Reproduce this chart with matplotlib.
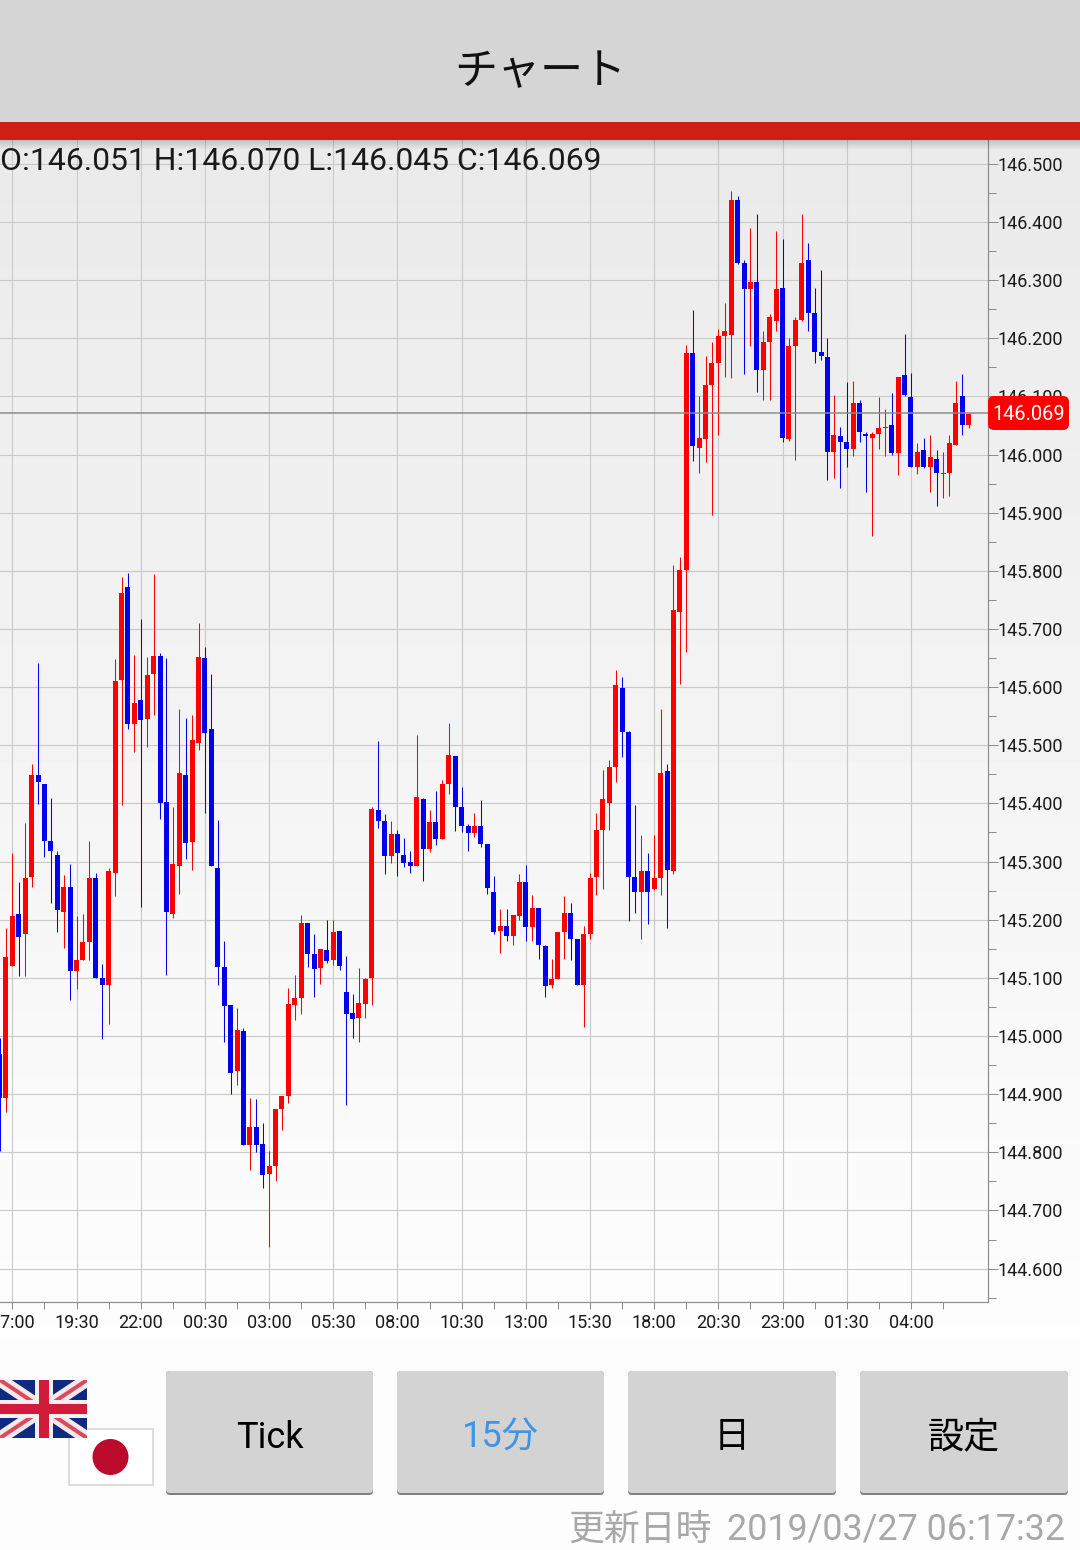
import numpy as np
import matplotlib
matplotlib.use("Agg")
import matplotlib.pyplot as plt
from matplotlib.patches import Rectangle, FancyBboxPatch, Circle
from matplotlib.ticker import FixedLocator, FixedFormatter

plt.rcParams['font.family'] = ['Roboto', 'Noto Sans CJK JP', 'DejaVu Sans']

# ---- data: 15-minute candles, first candle two bars left of the 17:00 gridline
opens = [144.969,144.894,145.120,145.209,145.175,145.273,145.448,145.434,145.336,145.312,
 145.214,145.257,145.112,145.131,145.162,145.271,145.099,145.087,145.281,145.613,
 145.773,145.537,145.577,145.546,145.623,145.654,145.403,145.210,145.293,145.449,
 145.334,145.504,145.650,145.528,145.289,145.119,145.053,144.940,145.009,144.812,
 144.844,144.815,144.762,144.776,144.875,144.897,145.053,145.066,145.195,145.141,
 145.117,145.148,145.130,145.180,145.076,145.040,145.031,145.055,145.099,145.388,
 145.369,145.309,145.348,145.312,145.299,145.292,145.408,145.321,145.368,145.338,
 145.433,145.481,145.393,145.361,145.349,145.361,145.331,145.247,145.180,145.190,
 145.172,145.206,145.264,145.187,145.220,145.154,145.087,145.098,145.178,145.211,
 145.166,145.087,145.175,145.273,145.355,145.400,145.462,145.599,145.522,145.273,
 145.247,145.283,145.252,145.271,145.455,145.283,145.730,145.801,146.174,146.012,
 146.026,146.119,146.158,146.203,146.205,146.438,146.330,146.285,146.296,146.146,
 146.193,146.230,146.287,146.026,146.186,146.232,146.335,146.243,146.176,146.167,
 146.005,146.031,146.021,146.009,146.089,146.036,146.029,146.036,146.045,146.050,
 146.003,146.137,146.099,145.979,146.007,145.979,145.993,145.967,145.969,146.017,
 146.101,146.051]
closes = [144.894,145.135,145.207,145.171,145.272,145.449,145.436,145.336,145.319,145.216,
 145.257,145.111,145.131,145.162,145.271,145.100,145.087,145.284,145.611,145.762,
 145.537,145.573,145.544,145.620,145.654,145.401,145.214,145.295,145.453,145.332,
 145.509,145.652,145.521,145.293,145.119,145.052,144.936,145.011,144.812,144.844,
 144.813,144.761,144.776,144.875,144.897,145.055,145.066,145.195,145.141,145.116,
 145.149,145.129,145.178,145.120,145.038,145.030,145.057,145.098,145.390,145.369,
 145.309,145.348,145.314,145.297,145.293,145.411,145.321,145.368,145.338,145.434,
 145.483,145.393,145.361,145.349,145.361,145.331,145.254,145.178,145.189,145.172,
 145.208,145.264,145.187,145.220,145.156,145.086,145.098,145.178,145.211,145.166,
 145.087,145.175,145.271,145.354,145.407,145.462,145.603,145.522,145.273,145.247,
 145.283,145.247,145.271,145.453,145.285,145.732,145.801,146.174,146.014,146.028,
 146.119,146.157,146.203,146.212,146.437,146.330,146.285,146.296,146.146,146.193,
 146.236,146.285,146.028,146.186,146.232,146.330,146.243,146.177,146.169,146.005,
 146.033,146.021,146.009,146.089,146.038,146.031,146.036,146.045,146.048,146.003,
 146.134,146.103,145.979,146.005,145.979,145.995,145.969,145.969,146.019,146.089,
 146.051,146.069]
highs = [144.996,145.186,145.315,145.265,145.367,145.468,145.642,145.434,145.410,145.319,
 145.277,145.296,145.207,145.210,145.336,145.281,145.123,145.289,145.649,145.790,
 145.797,145.656,145.717,145.652,145.795,145.659,145.650,145.393,145.562,145.547,
 145.552,145.711,145.669,145.623,145.372,145.164,145.053,145.048,145.014,144.894,
 144.892,144.851,144.803,144.875,144.897,145.083,145.105,145.208,145.195,145.175,
 145.149,145.199,145.200,145.180,145.137,145.072,145.117,145.100,145.394,145.508,
 145.381,145.369,145.354,145.341,145.318,145.517,145.409,145.388,145.422,145.441,
 145.539,145.481,145.428,145.364,145.383,145.405,145.331,145.276,145.218,145.218,
 145.208,145.278,145.294,145.242,145.220,145.156,145.132,145.178,145.240,145.228,
 145.166,145.190,145.280,145.383,145.457,145.474,145.629,145.618,145.524,145.398,
 145.345,145.314,145.345,145.562,145.467,145.810,145.824,146.188,146.249,146.100,
 146.169,146.193,146.216,146.261,146.453,146.445,146.335,146.390,146.414,146.213,
 146.241,146.385,146.370,146.201,146.236,146.413,146.363,146.287,146.318,146.201,
 146.103,146.048,146.125,146.127,146.093,146.038,146.039,146.099,146.079,146.106,
 146.134,146.207,146.141,146.019,146.029,146.033,146.007,146.005,146.034,146.127,
 146.139,146.070]
lows = [144.803,144.870,145.120,145.103,145.104,145.256,145.399,145.307,145.228,145.178,
 145.152,145.062,145.080,145.131,145.131,145.100,144.994,145.020,145.241,145.398,
 145.528,145.489,145.221,145.497,145.552,145.374,145.105,145.203,145.245,145.305,
 145.286,145.492,145.384,145.293,145.087,144.990,144.901,144.916,144.812,144.769,
 144.800,144.738,144.638,144.751,144.839,144.884,145.028,145.038,145.119,145.067,
 145.089,145.125,145.122,145.113,144.882,144.997,144.990,145.031,145.053,145.357,
 145.278,145.297,145.276,145.290,145.280,145.292,145.267,145.316,145.328,145.338,
 145.417,145.352,145.350,145.319,145.343,145.325,145.244,145.175,145.142,145.163,
 145.156,145.199,145.163,145.163,145.132,145.067,145.082,145.098,145.132,145.130,
 145.087,145.015,145.166,145.242,145.252,145.355,145.436,145.479,145.197,145.211,
 145.166,145.192,145.251,145.242,145.185,145.278,145.606,145.660,145.988,145.968,
 145.987,145.896,146.033,146.133,146.131,146.327,146.138,146.186,146.108,146.093,
 146.093,146.212,146.021,146.024,145.990,146.229,146.212,146.157,146.162,145.957,
 145.959,145.943,145.979,145.998,146.021,145.935,145.859,146.009,145.998,146.000,
 145.964,146.101,145.979,145.966,145.976,145.935,145.911,145.926,145.928,146.017,
 146.034,146.045]
time_labels = ['17:00','19:30','22:00','00:30','03:00','05:30','08:00','10:30',
               '13:00','15:30','18:00','20:30','23:00','01:30','04:00']
price_labels = ['146.500','146.400','146.300','146.200','146.100','146.000','145.900',
                '145.800','145.700','145.600','145.500','145.400','145.300','145.200',
                '145.100','145.000','144.900','144.800','144.700','144.600']
price_ticks = [float(s) for s in price_labels]
minor_price_ticks = [p - 0.05 for p in price_ticks]
current_price_line = 146.071
current_price_text = '146.069'
ohlc_text = 'O:146.051 H:146.070 L:146.045 C:146.069'
title_text = 'チャート'
button_labels = ['Tick', '15分', '日', '設定']
updated_label = '更新日時'
updated_stamp = '2019/03/27 06:17:32'

# ---- figure and pixel helpers
W, H = 1080, 1550
DPI = 100
PX = 72 / DPI
fig = plt.figure(figsize=(W / DPI, H / DPI), dpi=DPI, facecolor='#fdfdfd')

def px_axes(z):
    a = fig.add_axes([0, 0, 1, 1], zorder=z)
    a.set_xlim(0, W); a.set_ylim(H, 0); a.axis('off'); a.patch.set_alpha(0)
    return a

bg = px_axes(0)
grad = np.linspace(0.918, 0.993, 256).reshape(-1, 1)
bg.imshow(grad, extent=(0, W, 1340, 140), cmap='gray', vmin=0, vmax=1, aspect='auto', zorder=0)
bg.set_xlim(0, W); bg.set_ylim(H, 0)

# ---- chart
L, R, T, B = 0, 988, 140, 1301.5
ax = fig.add_axes([L / W, 1 - B / H, (R - L) / W, (B - T) / H], zorder=1)
ax.patch.set_alpha(0)
STEP = 6.418
X0 = 12.4
ax.set_xlim((L - X0) / STEP, (R - X0) / STEP)
PPU = 581.5
Y0 = 454.5
ax.set_ylim(146 + (Y0 - B) / PPU, 146 + (Y0 - T) / PPU)

o, h, l, c = map(np.array, (opens, highs, lows, closes))
x = np.arange(len(o)) - 2
up = c >= o
colors = np.where(up, '#ff0000', '#0000ee')
ax.vlines(x, l, h, colors=colors, linewidth=1.05 * PX, zorder=3)
ax.bar(x, np.abs(c - o), bottom=np.minimum(o, c), width=5 / STEP, color=colors, linewidth=0, zorder=4)

major_x = list(range(0, 150, 10))
minor_x = list(range(5, 150, 10))
ax.xaxis.set_major_locator(FixedLocator(major_x))
ax.xaxis.set_major_formatter(FixedFormatter(time_labels))
ax.xaxis.set_minor_locator(FixedLocator(minor_x))
ax.yaxis.set_major_locator(FixedLocator(price_ticks))
ax.yaxis.set_major_formatter(FixedFormatter(price_labels))
ax.yaxis.set_minor_locator(FixedLocator(minor_price_ticks))
ax.yaxis.tick_right()
ax.grid(True, which='major', color='#c9c9c9', linewidth=1.1 * PX, zorder=1)
ax.set_axisbelow(True)
for s in ('top', 'left'):
    ax.spines[s].set_visible(False)
for s in ('right', 'bottom'):
    ax.spines[s].set_color('#8c8c8c'); ax.spines[s].set_linewidth(1.2 * PX)
ax.tick_params(axis='x', which='major', length=7 * PX, width=PX, color='#8c8c8c',
               labelsize=13.0, pad=3.8, labelcolor='#1a1a1a')
ax.tick_params(axis='x', which='minor', length=7 * PX, width=PX, color='#8c8c8c')
ax.tick_params(axis='y', which='major', length=10 * PX, width=PX, color='#8c8c8c',
               labelsize=13.0, pad=-0.7, labelcolor='#1a1a1a')
ax.tick_params(axis='y', which='minor', length=7.5 * PX, width=PX, color='#8c8c8c')
ax.axhline(current_price_line, color='#8a8a8a', linewidth=1.5 * PX, zorder=6)

# ---- overlay: header, label, footer
ov = px_axes(3)
ov.add_patch(Rectangle((0, 0), W, 122, color='#d5d5d5', lw=0))
ov.add_patch(Rectangle((0, 122), W, 18, color='#ce1f14', lw=0))
shadow = np.zeros((32, 1, 4)); shadow[..., 3] = np.linspace(0.18, 0, 32).reshape(-1, 1)
ov.imshow(shadow, extent=(0, W, 150, 140), aspect='auto', zorder=1)
ov.set_xlim(0, W); ov.set_ylim(H, 0)
ov.text(540, 72.5, title_text, ha='center', va='center', fontsize=31, color='#111111',
        family=['Noto Sans CJK JP'])
ov.text(0, 161.5, ohlc_text, ha='left', va='center', fontsize=22.95, color='#1a1a1a')

ov.add_patch(FancyBboxPatch((993, 401), 71, 24, boxstyle='round,pad=5,rounding_size=6', lw=0,
                            fc='#ff0000', zorder=3))
ov.text(1028.5, 414, current_price_text, ha='center', va='center', fontsize=14.4, color='white', zorder=4)

# flags
ov.add_patch(Rectangle((69, 1429), 84, 56, fc='white', ec='#dcdcdc', lw=2 * PX, zorder=2))
ov.add_patch(Circle((110.5, 1457), 18, fc='#bc0a2d', lw=0, zorder=3))
fx0, fx1, fy0, fy1 = 0, 87, 1380, 1438
clip = Rectangle((fx0, fy0), fx1 - fx0, fy1 - fy0, transform=ov.transData)
ov.add_patch(Rectangle((fx0, fy0), fx1 - fx0, fy1 - fy0, fc='#0b2a80', lw=0, zorder=4))
fcx, fcy = 43.5, 1409
for (xs, ys) in (((-12, 99), (1372, 1446)), ((-12, 99), (1446, 1372))):
    ln, = ov.plot(xs, ys, color='#f4e8ea', lw=13 * PX, zorder=5, solid_capstyle='butt'); ln.set_clip_path(clip)
    ln, = ov.plot(xs, ys, color='#d94a5c', lw=4 * PX, zorder=6, solid_capstyle='butt'); ln.set_clip_path(clip)
ov.add_patch(Rectangle((fcx - 9, fy0), 18, fy1 - fy0, fc='#f8eef0', lw=0, zorder=7))
ov.add_patch(Rectangle((fx0, fcy - 9), fx1 - fx0, 18, fc='#f8eef0', lw=0, zorder=7))
ov.add_patch(Rectangle((fcx - 5, fy0), 10, fy1 - fy0, fc='#d01c3a', lw=0, zorder=8))
ov.add_patch(Rectangle((fx0, fcy - 5), fx1 - fx0, 10, fc='#d01c3a', lw=0, zorder=8))

# buttons
button_left = [166, 397, 628, 860]
button_right = [373, 604, 836, 1068]
button_color = ['black', '#3f94e6', 'black', 'black']
for x0, x1, t, col in zip(button_left, button_right, button_labels, button_color):
    ov.add_patch(FancyBboxPatch((x0 + 3, 1374), x1 - x0 - 6, 118, boxstyle='round,pad=3,rounding_size=4',
                                fc='#7f7f7f', lw=0, zorder=2))
    ov.add_patch(FancyBboxPatch((x0 + 3, 1374), x1 - x0 - 6, 116, boxstyle='round,pad=3,rounding_size=4',
                                fc='#d3d3d3', lw=0, zorder=3))
    ov.text((x0 + x1) / 2, 1437.5, t, ha='center', va='center', fontsize=26, color=col, zorder=4)

ov.text(1065, 1530, updated_stamp, ha='right', va='center', fontsize=25.8, color='#a8a8a8', zorder=4)
ov.text(712, 1530, updated_label, ha='right', va='center', fontsize=25.8, color='#a8a8a8', zorder=4)

fig.savefig('out.png', dpi=DPI, facecolor=fig.get_facecolor())
